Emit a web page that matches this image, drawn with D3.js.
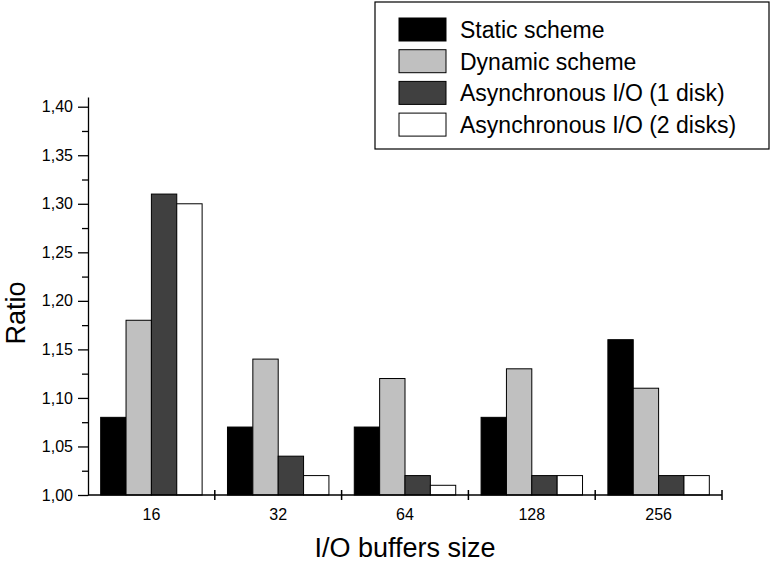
<!DOCTYPE html>
<html>
<head>
  <script src="https://cdn.jsdelivr.net/npm/d3@7"></script>
  <style>
    body { margin: 0; background: #fff; }
    text { font-family: "Liberation Sans", Arial, sans-serif; fill: #000; }
  </style>
</head>
<title>I/O buffers size vs Ratio</title>
<body>
  <script>
    var width = 775, height = 564;

    // data
    var categories = ["16", "32", "64", "128", "256"];
    var seriesNames = ["Static scheme", "Dynamic scheme", "Asynchronous I/O (1 disk)", "Asynchronous I/O (2 disks)"];
    var seriesColors = ["#000000", "#c0c0c0", "#404040", "#ffffff"];
    var staticScheme = [1.08, 1.07, 1.07, 1.08, 1.16];
    var dynamicScheme = [1.18, 1.14, 1.12, 1.13, 1.11];
    var async1Disk = [1.31, 1.04, 1.02, 1.02, 1.02];
    var async2Disks = [1.30, 1.02, 1.01, 1.02, 1.02];
    var yTicks = [1.00, 1.05, 1.10, 1.15, 1.20, 1.25, 1.30, 1.35, 1.40];
    var yMinorTicks = [1.025, 1.075, 1.125, 1.175, 1.225, 1.275, 1.325, 1.375];

    var series = [staticScheme, dynamicScheme, async1Disk, async2Disks];

    var margin = {left: 88, right: 53, top: 97, bottom: 69};
    var innerW = width - margin.left - margin.right,
        innerH = height - margin.top - margin.bottom;

    var svg = d3.select("body")
      .append("svg")
      .attr("width", width)
      .attr("height", height);

    var g = svg.append("g")
      .attr("transform", "translate(" + margin.left + "," + margin.top + ")");

    var x = d3.scaleBand()
      .domain(categories)
      .range([0, innerW])
      .paddingInner(0.2)
      .paddingOuter(0.1);

    var xSub = d3.scaleBand()
      .domain(d3.range(series.length))
      .range([0, x.bandwidth()]);

    var y = d3.scaleLinear()
      .domain([1.0, 1.41])
      .range([innerH, 0]);

    var comma = d3.formatLocale({decimal: ",", thousands: ".", grouping: [3], currency: ["", ""]}).format(".2f");

    // bars
    var rows = [];
    categories.forEach(function(c, i) {
      series.forEach(function(s, j) {
        rows.push({cat: c, k: j, value: s[i]});
      });
    });

    g.append("g")
      .selectAll("rect")
      .data(rows)
      .enter().append("rect")
      .attr("x", d => x(d.cat) + xSub(d.k))
      .attr("y", d => y(d.value))
      .attr("width", xSub.bandwidth())
      .attr("height", d => y(1.0) - y(d.value))
      .attr("fill", d => seriesColors[d.k])
      .attr("stroke", "#000")
      .attr("stroke-width", 1);

    // y axis
    var yAxis = g.append("g")
      .call(d3.axisLeft(y).tickValues(yTicks).tickFormat(comma).tickSize(10).tickSizeOuter(0));
    yAxis.selectAll("text").style("font-size", "16px").attr("x", -15);
    yAxis.selectAll("line").attr("stroke-width", 1.3);
    yAxis.select(".domain").attr("stroke-width", 1.3);

    g.append("g")
      .call(d3.axisLeft(y).tickValues(yMinorTicks).tickFormat("").tickSize(6).tickSizeOuter(0))
      .call(a => a.selectAll("line").attr("stroke-width", 1.3))
      .select(".domain").remove();

    // x axis: ticks at group boundaries, crossing the line
    var bounds = categories.map(c => x(c) - x.step() * x.paddingInner() / 2).concat([innerW]);
    var xAxisG = g.append("g").attr("transform", "translate(0," + innerH + ")");
    xAxisG.append("line")
      .attr("x1", 0).attr("x2", innerW)
      .attr("stroke", "#000").attr("stroke-width", 1.3);
    xAxisG.selectAll(".bt")
      .data(bounds.slice(1))
      .enter().append("line")
      .attr("x1", d => d).attr("x2", d => d)
      .attr("y1", -5).attr("y2", 5)
      .attr("stroke", "#000").attr("stroke-width", 1.5);
    xAxisG.selectAll(".lab")
      .data(categories)
      .enter().append("text")
      .attr("x", d => x(d) + x.bandwidth() / 2)
      .attr("y", 25)
      .attr("text-anchor", "middle")
      .style("font-size", "16px")
      .text(d => d);

    // axis titles
    svg.append("text")
      .attr("x", margin.left + innerW / 2)
      .attr("y", 557)
      .attr("text-anchor", "middle")
      .style("font-size", "27px")
      .text("I/O buffers size");

    svg.append("text")
      .attr("transform", "translate(25,313) rotate(-90)")
      .attr("text-anchor", "middle")
      .style("font-size", "27px")
      .text("Ratio");

    // legend
    var legend = svg.append("g").attr("transform", "translate(375,2)");
    legend.append("rect")
      .attr("width", 394).attr("height", 147)
      .attr("fill", "#fff").attr("stroke", "#000").attr("stroke-width", 1.2);
    var item = legend.selectAll(".item")
      .data(seriesNames)
      .enter().append("g")
      .attr("transform", (d, i) => "translate(24," + (16 + i * 31.7) + ")");
    item.append("rect")
      .attr("width", 47).attr("height", 23)
      .attr("fill", (d, i) => seriesColors[i])
      .attr("stroke", "#000").attr("stroke-width", 1);
    item.append("text")
      .attr("x", 61).attr("y", 20)
      .style("font-size", "23px")
      .text(d => d);
  </script>
</body>
</html>
